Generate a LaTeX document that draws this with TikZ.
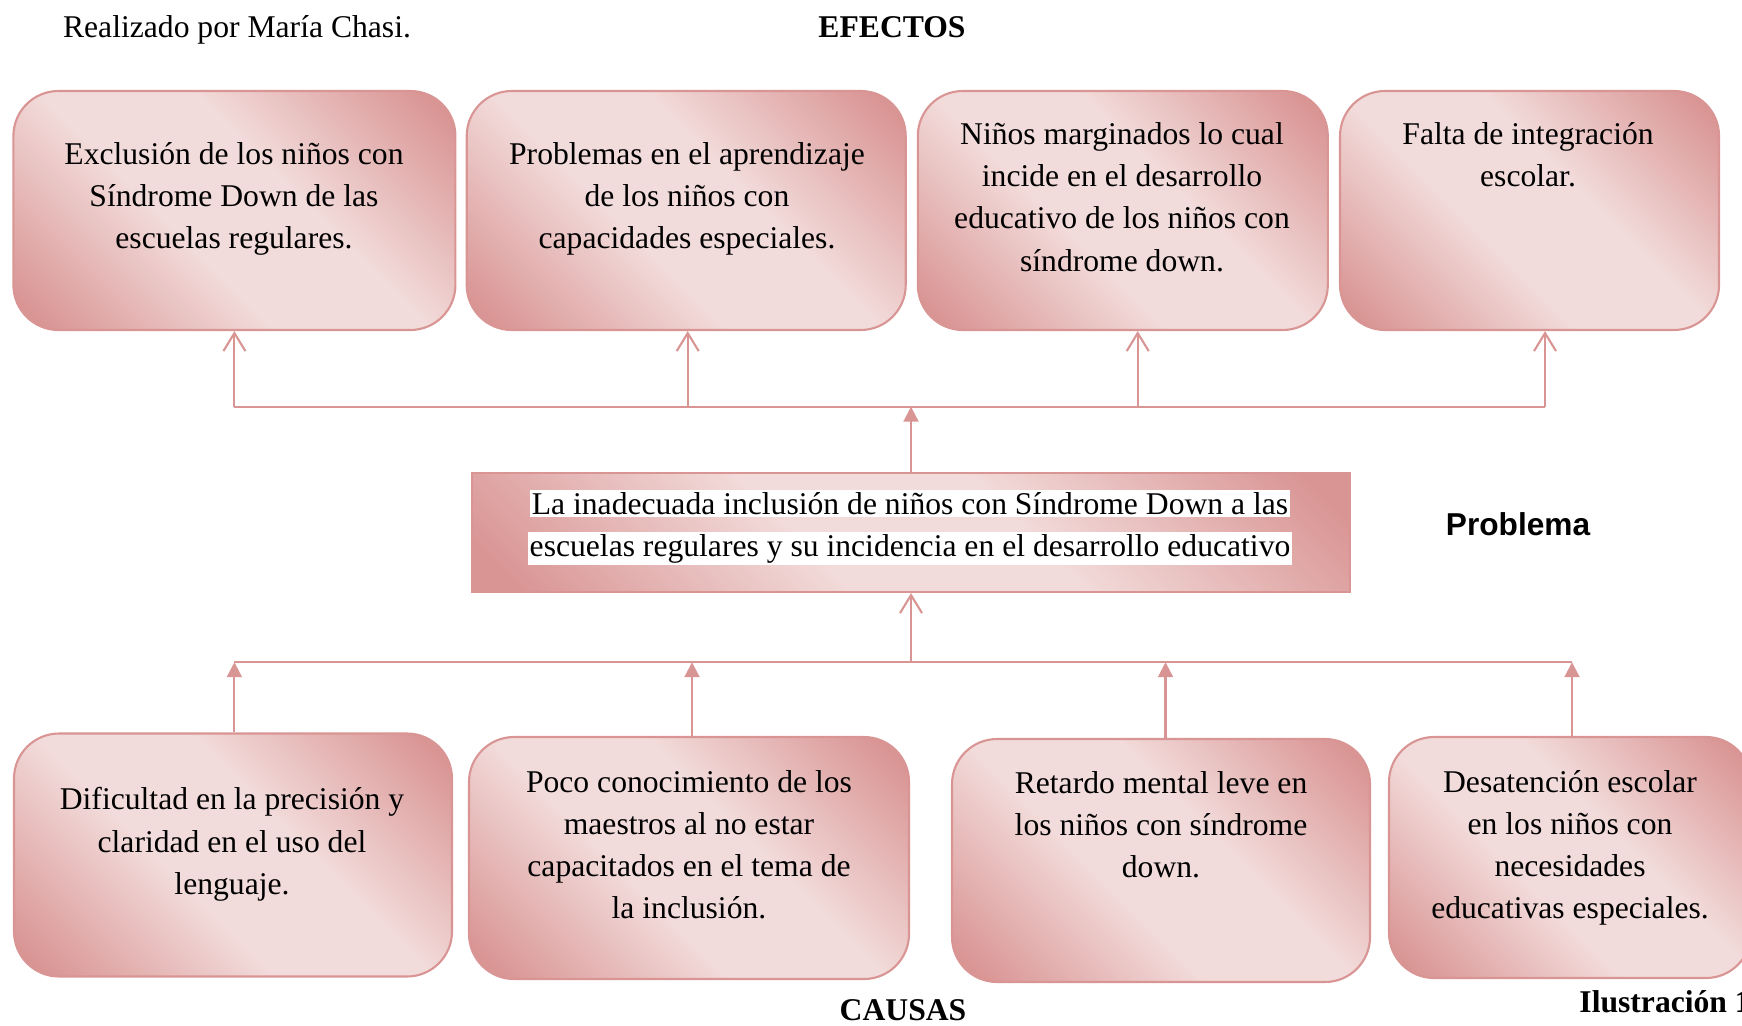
\documentclass[tikz,border=0pt]{standalone}
\usepackage{fontspec}
\setmainfont{Liberation Serif}
\newfontfamily\arial{Liberation Sans}
\usetikzlibrary{arrows.meta}
\definecolor{rosaosc}{HTML}{D99594}
\definecolor{rosacla}{HTML}{F2DCDB}
\definecolor{rosaborde}{HTML}{D99594}
\pgfdeclareverticalshading{rosado}{100bp}{color(0bp)=(rosaosc); color(18bp)=(rosaosc);
	color(42bp)=(rosacla); color(58bp)=(rosacla); color(82bp)=(rosaosc); color(100bp)=(rosaosc)}
\tikzset{
	caja/.style={draw=rosaborde, line width=0.6pt, rounded corners=0.45cm,
		shading=rosado, shading angle=-45, inner sep=0pt},
	problemabox/.style={caja, rounded corners=0pt},
	texto/.style={align=center, font=\fontsize{9}{12}\selectfont},
	linea/.style={draw=rosaborde, line width=0.6pt},
	flechaA/.style={linea, -{Straight Barb[length=1.8mm,width=2.2mm]}},
	flechaT/.style={linea, -{Triangle[length=1.5mm,width=1.5mm]}}
}
\begin{document}
\begin{tikzpicture}
		\useasboundingbox (0,0) rectangle (17.42,-10.25);
		\clip (0,0) rectangle (17.42,-10.25);

		\node[texto] (autor) at (2.37,-0.295) {Realizado por María Chasi.};
		\node[texto, font=\fontsize{9}{12}\selectfont\bfseries] (ef) at (8.92,-0.27) {EFECTOS};
		\node[texto, font=\fontsize{9}{12}\selectfont\bfseries] (ca) at (9.03,-10.10) {CAUSAS};
		\node[texto, font=\fontsize{9}{12}\selectfont\bfseries, anchor=west] (il) at (15.67,-10.02) {Ilustración 1};
		\node[texto, font=\fontsize{9}{12}\selectfont\arial\bfseries] (prob) at (15.18,-5.244) {Problema};

		\node[caja, minimum width=4.42cm, minimum height=2.39cm] (e1) at (2.344,-2.105) {};
		\node[caja, minimum width=4.39cm, minimum height=2.39cm] (e2) at (6.862,-2.105) {};
		\node[caja, minimum width=4.10cm, minimum height=2.39cm] (e3) at (11.228,-2.105) {};
		\node[caja, minimum width=3.79cm, minimum height=2.39cm] (e4) at (15.295,-2.105) {};
		\node[texto] (te1) at (2.34,-1.988) {Exclusión de los niños con\\Síndrome Down de las\\escuelas regulares.};
		\node[texto] (te2) at (6.87,-1.988) {Problemas en el aprendizaje\\de los niños con\\capacidades especiales.};
		\node[texto] (te3) at (11.22,-1.97) {Niños marginados lo cual\\incide en el desarrollo\\educativo de los niños con\\síndrome down.};
		\node[texto] (te4) at (15.28,-1.545) {Falta de integración\\escolar.};

		\node[problemabox, minimum width=8.78cm, minimum height=1.19cm] (p) at (9.11,-5.325) {};
		\node[texto] (tp) at (9.10,-5.278) {\setlength{\fboxsep}{0.6pt}\colorbox{white}{La inadecuada inclusión de niños con Síndrome Down a las}\\\setlength{\fboxsep}{0.6pt}\colorbox{white}{escuelas regulares y su incidencia en el desarrollo educativo}};

		\node[caja, minimum width=4.38cm, minimum height=2.43cm] (c1) at (2.33,-8.55) {};
		\node[caja, minimum width=4.40cm, minimum height=2.42cm] (c2) at (6.89,-8.58) {};
		\node[caja, minimum width=4.18cm, minimum height=2.43cm] (c3) at (11.61,-8.605) {};
		\node[caja, minimum width=3.62cm, minimum height=2.41cm] (c4) at (15.70,-8.575) {};
		\node[texto] (tc1) at (2.32,-8.443) {Dificultad en la precisión y\\claridad en el uso del\\lenguaje.};
		\node[texto] (tc2) at (6.89,-8.445) {Poco conocimiento de los\\maestros al no estar\\capacitados en el tema de\\la inclusión.};
		\node[texto] (tc3) at (11.61,-8.245) {Retardo mental leve en\\los niños con síndrome\\down.};
		\node[texto] (tc4) at (15.70,-8.478) {Desatención escolar\\en los niños con\\necesidades\\educativas especiales.};

		\coordinate (b1) at (2.344,-4.067);
		\coordinate (b2) at (6.877,-4.067);
		\coordinate (b3) at (11.377,-4.067);
		\coordinate (b4) at (15.45,-4.067);
		\draw[linea] (b1) -- (b4);
		\draw[flechaA] (b1) -- (b1 |- e1.south);
		\draw[flechaA] (b2) -- (b2 |- e2.south);
		\draw[flechaA] (b3) -- (b3 |- e3.south);
		\draw[flechaA] (b4) -- (b4 |- e4.south);
		\draw[flechaT] (p.north) -- (p.north |- b1);

		\coordinate (a1) at (2.344,-6.622);
		\coordinate (a2) at (6.92,-6.622);
		\coordinate (a3) at (11.655,-6.622);
		\coordinate (a4) at (15.72,-6.622);
		\draw[linea] (a1) -- (a4);
		\draw[flechaT] (a1 |- c1.north) -- (a1);
		\draw[flechaT] (a2 |- c2.north) -- (a2);
		\draw[flechaT] (a3 |- c3.north) -- (a3);
		\draw[flechaT] (a4 |- c4.north) -- (a4);
		\draw[flechaA] (p.south |- a1) -- (p.south);
	\end{tikzpicture}
\end{document}
